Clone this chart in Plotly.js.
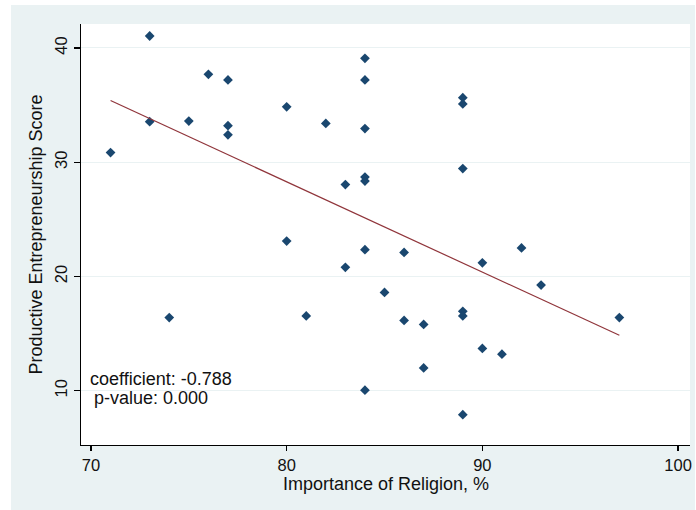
<!DOCTYPE html>
<html>
<head>
<meta charset="utf-8">
<script src="https://cdn.plot.ly/plotly-3.0.1.min.js"></script>
<style>
html,body{margin:0;padding:0;background:#ffffff;}
#chart{position:absolute;left:11px;top:5px;width:684px;height:505px;}
</style>
</head>
<body>
<div id="chart"></div>
<script>
// Importance of Religion, %
var religion = [73, 71, 73, 75, 76, 77, 77, 77, 74, 80, 80, 81, 82, 83, 83,
  84, 84, 84, 84, 84, 84, 84, 85, 86, 86, 87, 87,
  89, 89, 89, 89, 89, 89, 90, 90, 91, 92, 93, 97];
// Productive Entrepreneurship Score
var score = [41.05, 30.85, 33.55, 33.6, 37.7, 37.2, 33.2, 32.4, 16.4, 34.85, 23.1, 16.55, 33.4, 28.05, 20.8,
  39.1, 37.2, 32.95, 28.7, 28.35, 22.35, 10.05, 18.6, 22.1, 16.15, 15.8, 12.0,
  35.65, 35.1, 29.45, 16.95, 16.55, 7.9, 21.2, 13.7, 13.2, 22.5, 19.25, 16.4];
// fitted line endpoints
var fitX = [71, 97];
var fitY = [35.4, 14.85];
var xTicks = [70, 80, 90, 100];
var yTicks = [10, 20, 30, 40];
var xTitle = "Importance of Religion, %";
var yTitle = "Productive Entrepreneurship Score";
var coefText = "coefficient: -0.788";
var pvalText = "p-value: 0.000";

var FONT = "Liberation Sans, Arial, sans-serif";
var TXT = "#111";
var traces = [
  {x: religion, y: score, type: "scatter", mode: "markers",
   marker: {symbol: "diamond", size: 7.5, color: "#1a476f"}, hoverinfo: "x+y"},
  {x: fitX, y: fitY, type: "scatter", mode: "lines",
   line: {color: "#90353b", width: 1.2}}
];
var layout = {
  showlegend: false,
  paper_bgcolor: "#eaf2f3",
  plot_bgcolor: "#ffffff",
  margin: {l: 70, r: 5, t: 19, b: 65, pad: 0},
  font: {family: FONT, size: 17, color: TXT},
  xaxis: {
    range: [69.49, 100.61], tickvals: xTicks, ticktext: xTicks.map(String),
    showgrid: false, zeroline: false,
    showline: true, linecolor: "#000", linewidth: 1.3,
    ticks: "outside", ticklen: 5, tickcolor: "#000", tickwidth: 1.3,
    tickfont: {family: FONT, size: 16.5, color: TXT}
  },
  yaxis: {
    range: [5.25, 42.1], tickvals: yTicks, ticktext: yTicks.map(String), tickangle: -90,
    showgrid: true, gridcolor: "#eaf2f3", gridwidth: 1, zeroline: false,
    showline: true, linecolor: "#000", linewidth: 1.3,
    ticks: "outside", ticklen: 6, tickcolor: "#000", tickwidth: 1.3,
    tickfont: {family: FONT, size: 16.5, color: TXT},
    title: {text: yTitle, font: {family: FONT, size: 18, color: TXT}, standoff: 4}
  },
  annotations: [
    {x: 0.5, y: -0.093, xref: "paper", yref: "paper", text: xTitle, showarrow: false,
     xanchor: "center", yanchor: "middle", font: {family: FONT, size: 18, color: TXT}},
    {x: 69.85, y: 11.0, xref: "x", yref: "y", text: coefText, showarrow: false,
     xanchor: "left", yanchor: "middle", font: {family: FONT, size: 18, color: TXT}},
    {x: 70.05, y: 9.35, xref: "x", yref: "y", text: pvalText, showarrow: false,
     xanchor: "left", yanchor: "middle", font: {family: FONT, size: 18, color: TXT}}
  ]
};
Plotly.newPlot("chart", traces, layout, {displayModeBar: false, staticPlot: true});
</script>
</body>
</html>
